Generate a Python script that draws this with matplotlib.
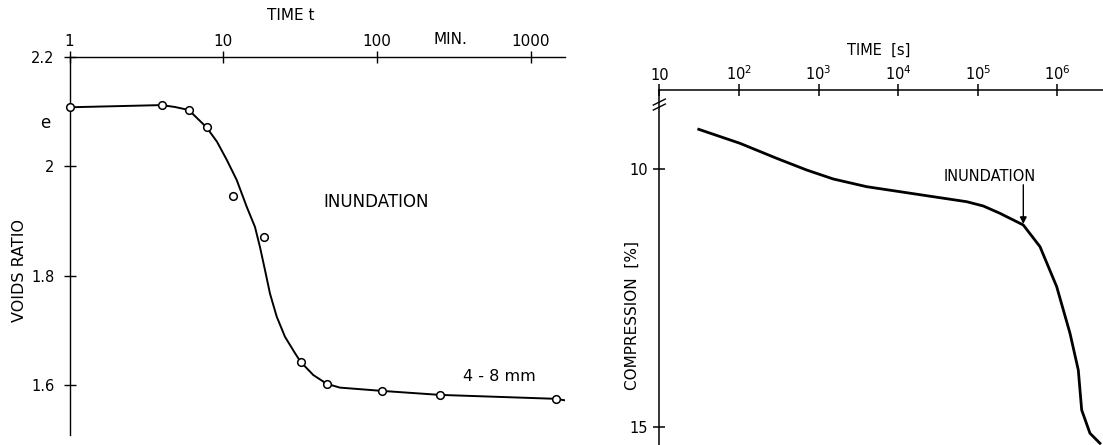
import numpy as np
import matplotlib
matplotlib.use('Agg')
import matplotlib.pyplot as plt

# --- left panel: voids ratio vs time (minutes) ---
t_meas = [1, 3.98, 5.97, 7.81, 11.6, 18.4, 32.0, 47.5, 108, 257, 1463]
e_meas = [2.108, 2.112, 2.103, 2.071, 1.946, 1.871, 1.642, 1.602, 1.589, 1.582, 1.5745]

t_curve = [1, 3.98, 4.86, 5.97, 7.81, 9.11, 10.54, 12.24, 14.22, 16.10, 17.36, 18.71,
           20.16, 22.29, 25.24, 29.33, 31.93, 38.58, 47.15, 57.5, 108, 257, 1463, 1675]
e_curve = [2.108, 2.112, 2.1085, 2.103, 2.071, 2.045, 2.012, 1.975, 1.926, 1.889, 1.852,
           1.810, 1.767, 1.725, 1.688, 1.658, 1.642, 1.618, 1.602, 1.595, 1.589, 1.5817,
           1.5745, 1.5717]

left_xticks = [1, 10, 100, 1000]
left_yticks = [1.6, 1.8, 2.0, 2.2]
left_yticklabels = ['1.6', '1.8', '2', '2.2']

# --- right panel: compression vs time (seconds) ---
t_comp = [31.3, 103, 298, 711, 1535, 4035, 10570, 27670, 72780, 117500, 190400,
          373800, 606400, 982500, 1.443e6, 1.835e6, 2.024e6, 2.572e6, 3.434e6]
c_comp = [9.225, 9.496, 9.787, 10.014, 10.188, 10.337, 10.434, 10.531, 10.628, 10.711,
          10.853, 11.079, 11.50, 12.275, 13.178, 13.890, 14.665, 15.116, 15.310]

right_xticks = [10, 1e2, 1e3, 1e4, 1e5, 1e6]
right_xticklabels = ['10', '$10^2$', '$10^3$', '$10^4$', '$10^5$', '$10^6$']
right_yticks = [10, 15]
t_inundation = 3.74e5

W, H = 1103, 445
fig = plt.figure(figsize=(W / 100, H / 100), dpi=100)

# left axes
axl = fig.add_axes([69.5 / W, 1 - 435 / H, (565 - 69.5) / W, (435 - 57) / H])
axl.set_xscale('log')
axl.set_xlim(1, 10 ** 3.224)
axl.set_ylim(1.5083, 2.2)
for s in ['right', 'bottom']:
    axl.spines[s].set_visible(False)
for s in ['top', 'left']:
    axl.spines[s].set_linewidth(1.0)
axl.xaxis.tick_top()
axl.set_xticks(left_xticks)
axl.set_xticklabels([str(v) for v in left_xticks])
axl.xaxis.set_minor_locator(matplotlib.ticker.NullLocator())
axl.set_yticks(left_yticks)
axl.set_yticklabels(left_yticklabels)
axl.tick_params(axis='x', direction='inout', length=8, width=1, pad=1.5, labelsize=11)
axl.tick_params(axis='y', direction='inout', length=8, width=1, pad=7, labelsize=10.5)
axl.patch.set_visible(False)

axl.plot(t_curve, e_curve, color='black', lw=1.4, zorder=2)
axl.plot(t_meas, e_meas, 'o', ms=5.5, mfc='white', mec='black', mew=1.1,
         zorder=3, clip_on=False)

axl.text(98.7, 1.935, 'INUNDATION', fontsize=12, ha='center', va='center')
axl.text(631, 1.615, '4 - 8 mm', fontsize=11.5, ha='center', va='center')
axl.text(-0.0494, 2.079, 'e', fontsize=12, ha='center', va='center',
         transform=axl.get_yaxis_transform())
fig.text(291 / W, 1 - 16 / H, 'TIME t', fontsize=11, ha='center', va='center')
fig.text(450.7 / W, 1 - 40 / H, 'MIN.', fontsize=11, ha='center', va='center')
fig.text(20 / W, 1 - 271 / H, 'VOIDS RATIO', fontsize=11.5, ha='center',
         va='center', rotation=90)

# right axes
axr = fig.add_axes([659.3 / W, 0, (W - 659.3) / W, (445 - 90) / H])
axr.set_xscale('log')
axr.set_xlim(10, 10 ** 6.574)
axr.set_ylim(15.343, 8.463)
for s in ['right', 'bottom']:
    axr.spines[s].set_visible(False)
for s in ['top', 'left']:
    axr.spines[s].set_linewidth(1.1)
axr.xaxis.tick_top()
axr.set_xticks(right_xticks)
axr.set_xticklabels(right_xticklabels)
axr.xaxis.set_minor_locator(matplotlib.ticker.NullLocator())
axr.set_yticks(right_yticks)
axr.set_yticklabels([str(v) for v in right_yticks])
axr.tick_params(axis='x', direction='inout', length=8, width=1.1, pad=1, labelsize=10.5)
axr.tick_params(axis='y', direction='inout', length=8, width=1.1, pad=4, labelsize=10.5)
axr.patch.set_visible(False)

axr.plot(t_comp, c_comp, color='black', lw=2.0, clip_on=False)
axr.text(1.43e5, 10.13, 'INUNDATION', fontsize=10.5, ha='center', va='center')
axr.annotate('', xy=(t_inundation, 11.06), xytext=(t_inundation, 10.30),
             arrowprops=dict(arrowstyle='-|>', color='black', lw=1.0,
                             mutation_scale=10, shrinkA=0, shrinkB=0))

# axis break marks just below the top axis
for yb in [0.966, 0.952]:
    axr.plot([-6 / 443.7, 6 / 443.7], [yb - 3 / 355, yb + 3 / 355],
             color='black', lw=1.0, transform=axr.transAxes, clip_on=False)

fig.text(879 / W, 1 - 50.7 / H, 'TIME  [s]', fontsize=10.5, ha='center', va='center')
fig.text(632.7 / W, 1 - 315 / H, 'COMPRESSION  [%]', fontsize=11, ha='center',
         va='center', rotation=90)

fig.savefig('out.png', dpi=100)
